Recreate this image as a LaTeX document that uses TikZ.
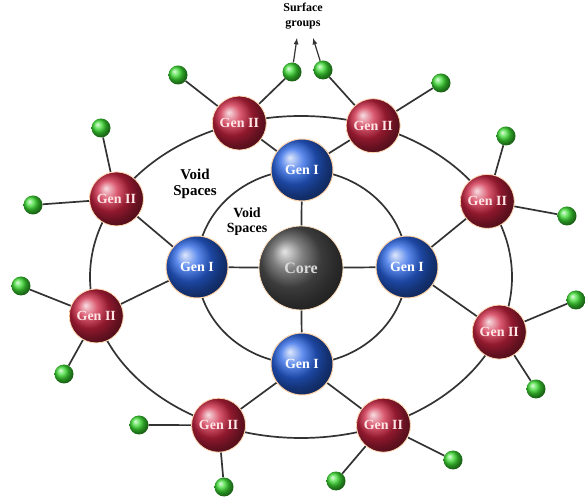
\documentclass[tikz,border=0pt]{standalone}
\usepackage{fontspec}
\setmainfont{Liberation Serif}
\usetikzlibrary{backgrounds}

\definecolor{coregray}{RGB}{85,85,85}
\definecolor{oneblue}{RGB}{40,100,230}
\definecolor{twored}{RGB}{205,35,65}
\definecolor{surfgreen}{RGB}{60,220,50}

\tikzstyle{core}=[circle,ball color=coregray,minimum size=84pt,inner sep=0pt,draw=orange!25,line width=0.8pt,text=white!85!black,font=\fontsize{16}{16}\selectfont\bfseries]
\tikzstyle{genone}=[circle,ball color=oneblue,minimum size=62pt,inner sep=0pt,draw=orange!35,line width=1pt,text=white,font=\fontsize{14}{14}\selectfont\bfseries]
\tikzstyle{gentwo}=[circle,ball color=twored,minimum size=54pt,inner sep=0pt,draw=orange!30,line width=0.8pt,text=white!90!red,font=\fontsize{14}{14}\selectfont\bfseries]
\tikzstyle{surf}=[circle,ball color=surfgreen,minimum size=19pt,inner sep=0pt]
\tikzstyle{link}=[line width=1.7pt,draw=black!80]
\tikzstyle{void}=[align=center,inner sep=0pt,font=\fontsize{15}{16}\selectfont\bfseries]

\begin{document}
\begin{tikzpicture}[x=1pt,y=1pt]
\useasboundingbox (0,0) rectangle (585,497);
\coordinate (inner) at (302,230);
\coordinate (outer) at (301,220);
% core and first generation
\node[core] (core) at (301,229) {Core};
\node[genone] (g1t) at (302,327) {Gen I};
\node[genone] (g1l) at (197,230) {Gen I};
\node[genone] (g1r) at (407,230) {Gen I};
\node[genone] (g1b) at (302,133) {Gen I};
% second generation on the outer ring
\foreach \ang/\nm in {107/a,70/b,28/c,340/d,293/e,247/f,194/g,151/h}
	\node[gentwo] (g2\nm) at ([shift={(\ang:211 and 161)}]outer) {Gen II};
% surface groups
\foreach \p/\x/\y [count=\i] in {a/178/422,a/292/425,b/323/427,b/441/414,h/101/369,h/33/292,c/506/361,c/567/281,g/21/211,g/64/123,d/576/197,d/536/108,f/139/72,f/224/10,e/336/16,e/453/37}
	\node[surf] (s\i) at (\x,\y) {};
\node[void] (voidout) at (195,313) {Void\\Spaces};
\node[void,font=\fontsize{14}{15}\selectfont\bfseries] (voidin) at (247,275) {Void\\Spaces};
\node[align=center,inner sep=0pt,font=\fontsize{12}{15}\selectfont\bfseries] (surflbl) at (303,481) {Surface\\groups};
\coordinate (tipa) at (297,459);
\coordinate (tipb) at (313,459);
\draw[line width=1.2pt,black!80,-latex] (s2) -- (tipa);
\draw[line width=1.2pt,black!80,-latex] (s3) -- (tipb);
\begin{pgfonlayer}{background}
	\draw[link] (inner) ellipse [x radius=105,y radius=97];
	\draw[link] (outer) ellipse [x radius=211,y radius=161];
	\foreach \g in {g1t,g1l,g1r,g1b}
		\draw[link] (core) -- (\g);
	\foreach \a/\b in {g1t/g2a,g1t/g2b,g1l/g2h,g1l/g2g,g1r/g2c,g1r/g2d,g1b/g2f,g1b/g2e}
		\draw[link] (\a) -- (\b);
	\foreach \p [count=\i] in {a,a,b,b,h,h,c,c,g,g,d,d,f,f,e,e}
		\draw[link] (g2\p) -- (s\i);
\end{pgfonlayer}
\end{tikzpicture}
\end{document}
